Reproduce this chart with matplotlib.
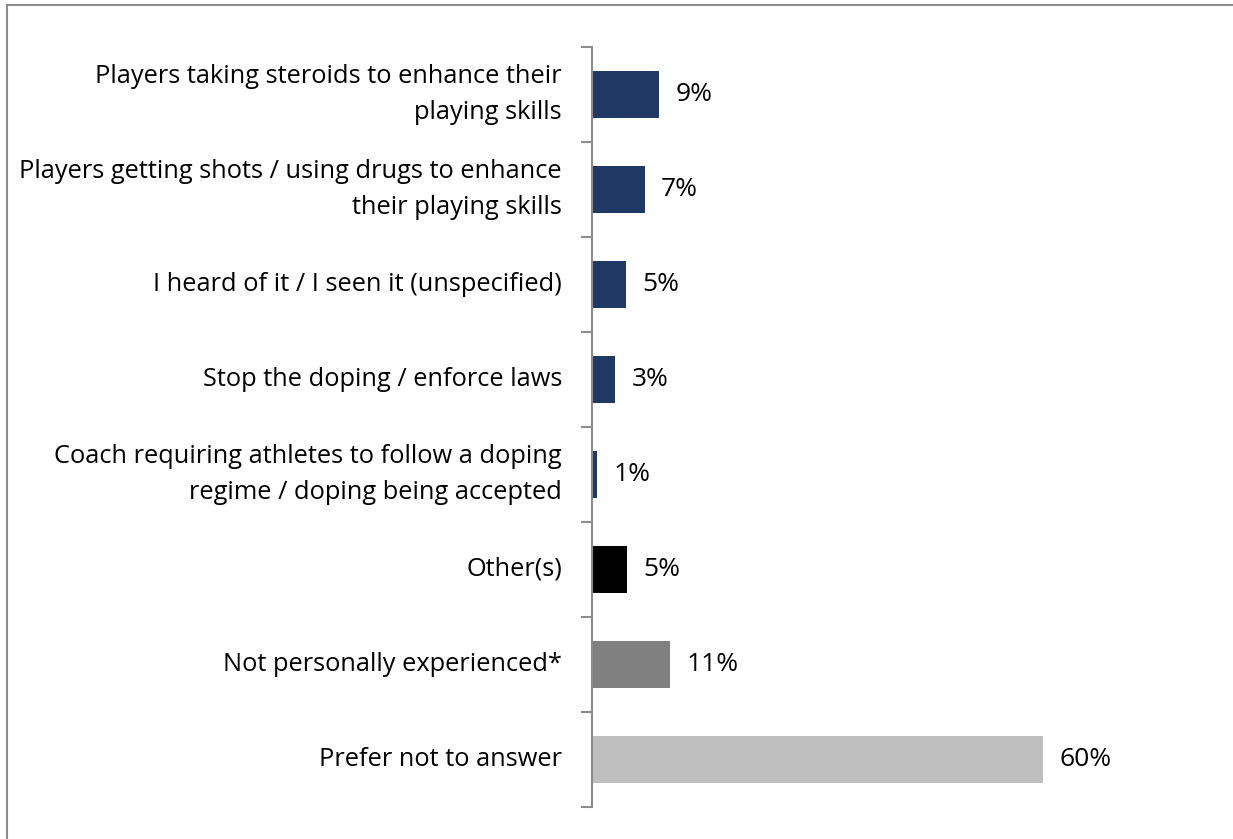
import numpy as np
import matplotlib.pyplot as plt
from matplotlib.lines import Line2D

plt.rcParams['font.family'] = ['Open Sans', 'DejaVu Sans']

# data, top to bottom
categories = [
    'Players taking steroids to enhance their\nplaying skills',
    'Players getting shots / using drugs to enhance\ntheir playing skills',
    'I heard of it / I seen it (unspecified)',
    'Stop the doping / enforce laws',
    'Coach requiring athletes to follow a doping\nregime / doping being accepted',
    'Other(s)',
    'Not personally experienced*',
    'Prefer not to answer',
]
values = [8.9, 7.0, 4.5, 3.05, 0.7, 4.6, 10.4, 60.0]
value_labels = ['9%', '7%', '5%', '3%', '1%', '5%', '11%', '60%']
colors = ['#1F3864'] * 5 + ['#000000', '#808080', '#BFBFBF']

W, H = 1233, 839
px = 7.52  # pixels per percent
fig = plt.figure(figsize=(W / 100, H / 100), dpi=100)
ax = fig.add_axes([592 / W, 1 - 807 / H, 600 / W, 760 / H])

n = len(values)
y = np.arange(n)
ax.barh(y, values, height=0.5, color=colors, zorder=2)
ax.set_ylim(n - 0.5, -0.5)
ax.set_xlim(0, 600 / px)

for yi, v, t in zip(y, values, value_labels):
    ax.text(v + 16.5 / px, yi, t, va='center', ha='left', fontsize=19, color='#000000')

for yi, lab in zip(y, categories):
    ax.text(-30 / px, yi, lab, va='center', ha='right', fontsize=18.3,
            color='#000000', linespacing=1.6)

# ticks at category boundaries
ax.set_yticks(np.arange(-0.5, n, 1))
ax.set_yticklabels([])
ax.tick_params(axis='y', length=8, width=1.5, color='#8C8C8C', direction='out')
ax.set_xticks([])
for s in ['top', 'right', 'bottom']:
    ax.spines[s].set_visible(False)
ax.spines['left'].set_color('#8C8C8C')
ax.spines['left'].set_linewidth(1.5)

# figure frame (top and left only visible)
fig.add_artist(Line2D([6.5 / W, 1], [1 - 5 / H, 1 - 5 / H], transform=fig.transFigure,
                      color='#8C8C8C', lw=1.5))
fig.add_artist(Line2D([6.5 / W, 6.5 / W], [0, 1 - 5 / H], transform=fig.transFigure,
                      color='#8C8C8C', lw=1.5))

fig.savefig('out.png', dpi=100)
